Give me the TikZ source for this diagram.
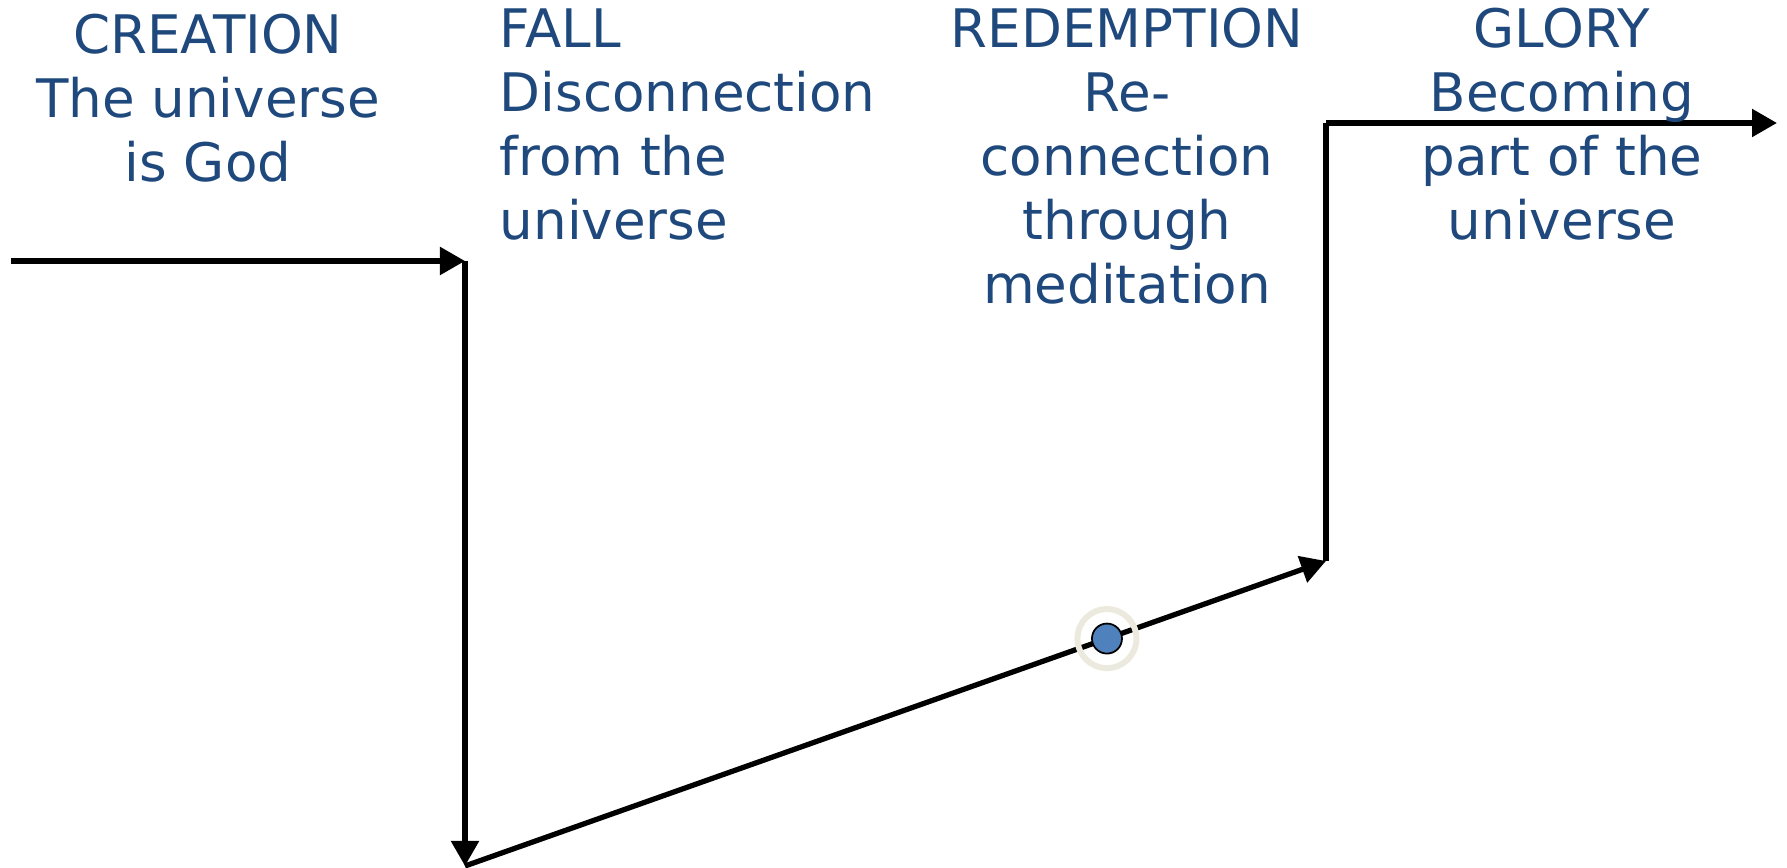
\documentclass[tikz,border=0pt]{standalone}
\usepackage{fontspec}
\setmainfont{DejaVu Sans}
\usetikzlibrary{arrows.meta,calc}
\usepackage{xcolor}
\definecolor{titleblue}{RGB}{31,73,125}
\definecolor{dotblue}{RGB}{79,129,189}
\definecolor{ringgray}{RGB}{236,234,222}

\begin{document}
\begin{tikzpicture}[
    x=0.01cm, y=-0.01cm,
    stage/.style={inner sep=0pt, text=titleblue, anchor=base,
        font=\fontsize{15.1pt}{18.2pt}\selectfont},
    flow/.style={line width=1.5pt, -{Triangle[length=0.25cm, width=0.27cm]}}
]

\useasboundingbox (0,0) rectangle (1787,868);

% corners of the path
\coordinate (start) at (11,261);
\coordinate (c1) at (465,261);
\coordinate (c2) at (465,866);
\coordinate (c3) at (1326,561);
\coordinate (c4) at (1326,123);
\coordinate (finish) at (1777,123);

\draw[flow] (start) -- (c1);
\draw[flow] (c1) -- (c2);
\draw[flow] (c2) -- (c3);
\draw[line width=1.5pt] (c3) -- (c4);
\draw[flow] (c4) -- (finish);

% marker on the way up
\node[circle, draw=ringgray, line width=1.7pt, minimum size=0.59cm, inner sep=0pt]
    (ring) at ($(c2)!0.7456!(c3)$) {};
\node[circle, draw, fill=dotblue, line width=0.5pt, minimum size=0.3cm, inner sep=0pt]
    (dot) at (ring.center) {};

% labels (placed at the baseline of their last line)
\node[stage, align=center] (creation) at (208,182) {CREATION\\The universe\\is God};
\node[stage, align=left, anchor=base west] (fall) at (499,240) {FALL\\Disconnection\\from the\\universe};
\node[stage, align=center] (redemption) at (1127,304) {REDEMPTION\\Re-\\connection\\through\\meditation};
\node[stage, align=center] (glory) at (1562,240) {GLORY\\Becoming\\part of the\\universe};

\end{tikzpicture}
\end{document}
